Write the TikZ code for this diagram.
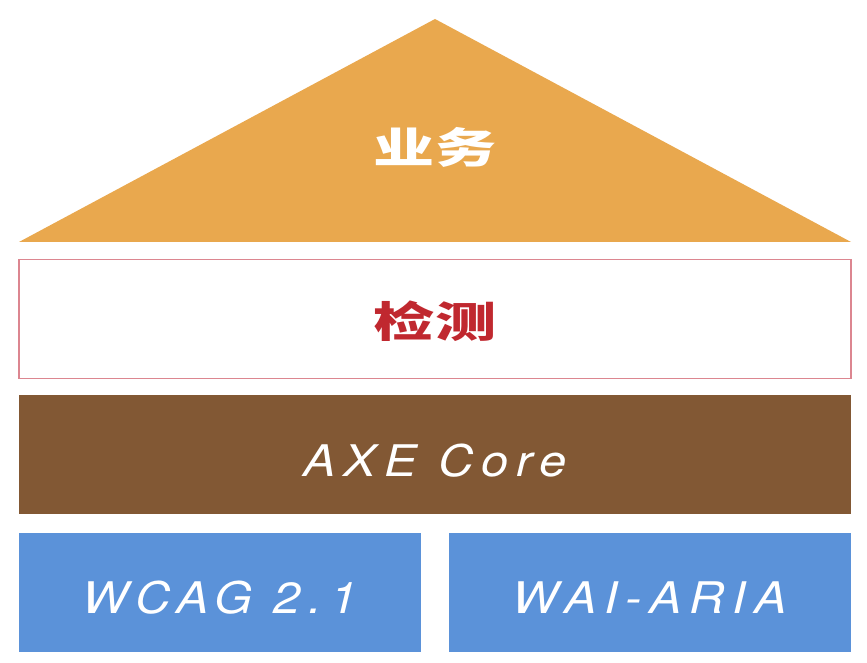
\documentclass[tikz,border=0pt]{standalone}
\usepackage{fontspec}
\usepackage{graphicx}
\usepackage{tikz}
\usetikzlibrary{positioning}
\newfontfamily\cjk{Noto Sans CJK SC}
\newfontfamily\hand[LetterSpace=16]{TeX Gyre Heros}
\newcommand{\handlabel}[1]{\raisebox{-0.14cm}[\height][\depth]{\scalebox{1.12}[1]{#1}}}
\newcommand{\cjklabel}[1]{\raisebox{-0.06cm}[\height][\depth]{\scalebox{1.45}[1]{#1}}}
\definecolor{roofc}{HTML}{E9A84E}
\definecolor{checkc}{HTML}{C0282F}
\definecolor{checkline}{HTML}{DC8690}
\definecolor{corec}{HTML}{825834}
\definecolor{basec}{HTML}{5B92D9}

\begin{document}
\begin{tikzpicture}[
	layer/.style = {rectangle,minimum width = 20.8cm,minimum height = 2.975cm,inner sep = 0pt},
	baselayer/.style = {rectangle,fill = basec,minimum width = 10.06cm,minimum height = 2.975cm,inner sep = 0pt},
	cjktext/.style = {font = \cjk\bfseries\fontsize{30}{30}\selectfont},
	handtext/.style = {text = white,font = \hand\itshape\fontsize{31}{31}\selectfont}]
		\useasboundingbox (0,0) rectangle (21.675,16.575);
		\fill[roofc] (0.475,10.525) -- (10.875,16.1) -- (21.275,10.525) -- cycle;
		\node[cjktext,text = white] at (10.875,12.95) (roof) {\cjklabel{业务}};
		\node[layer,draw = checkline,line width = 0.9pt,cjktext,text = checkc] at (10.875,8.6) (check) {\cjklabel{检测}};
		\node[layer,below = 0.4cm of check,fill = corec,handtext] (core) {\handlabel{AXE Core}};
		\node[baselayer,below right = 0.45cm and 0cm of core.south west,handtext] (wcag) {\handlabel{WCAG 2.1}};
		\node[baselayer,below left = 0.45cm and 0cm of core.south east,handtext] (aria) {\handlabel{WAI-ARIA}};
	\end{tikzpicture}
\end{document}
